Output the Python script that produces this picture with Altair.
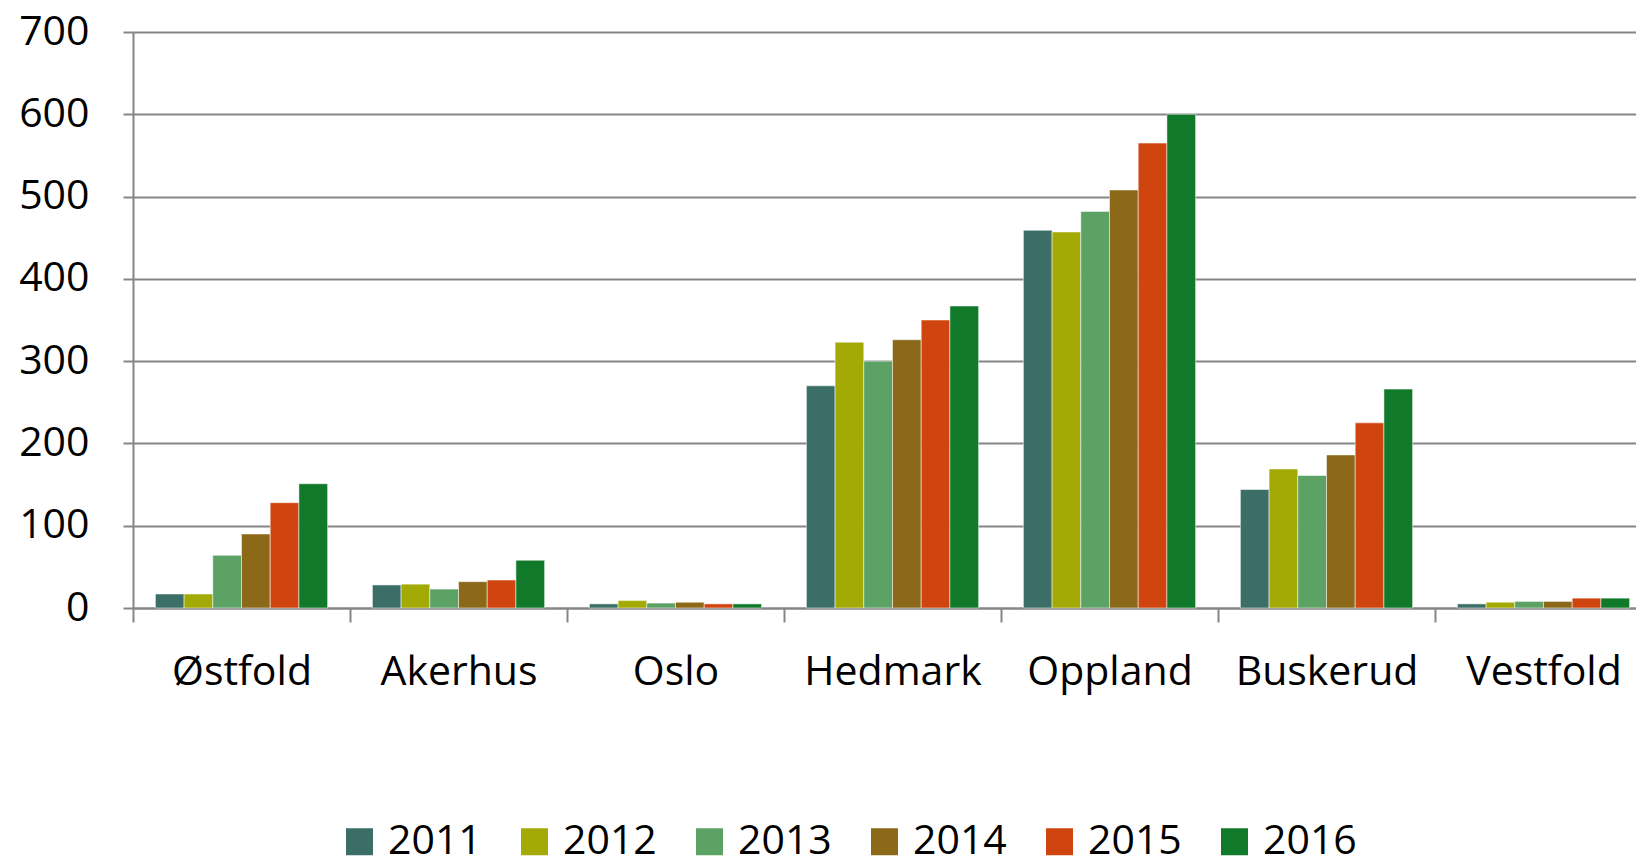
import altair as alt
import pandas as pd

regions = ["Østfold", "Akerhus", "Oslo", "Hedmark", "Oppland", "Buskerud", "Vestfold"]
years = ["2011", "2012", "2013", "2014", "2015", "2016"]
colors = ["#3B6E66", "#A3AA05", "#5CA265", "#8C6919", "#D0450F", "#107A2A"]

v2011 = [17, 28, 5, 270, 459, 144, 5]
v2012 = [17, 29, 9, 323, 457, 169, 7]
v2013 = [64, 23, 6, 300, 482, 161, 8]
v2014 = [90, 32, 7, 326, 508, 186, 8]
v2015 = [128, 34, 5, 350, 565, 225, 12]
v2016 = [151, 58, 5, 367, 600, 266, 12]

series = [v2011, v2012, v2013, v2014, v2015, v2016]
rows = []
for y, vals in zip(years, series):
    for r, v in zip(regions, vals):
        rows.append({"region": r, "year": y, "value": v})
df = pd.DataFrame(rows)

FONT = "Open Sans"
GRID = "#868686"

chart = alt.Chart(df).mark_bar(
    stroke="#ffffff", strokeWidth=1, strokeOpacity=0.5
).encode(
    x=alt.X("region:N", sort=regions, title=None,
            scale=alt.Scale(paddingInner=0, paddingOuter=0),
            axis=alt.Axis(labelAngle=0, tickBand="extent", tickSize=14,
                          labelPadding=30, labelFontSize=41, labelFont=FONT,
                          labelLimit=0,
                          labelColor="#000000", domainColor=GRID, tickColor=GRID,
                          domainWidth=2, tickWidth=2, grid=False)),
    xOffset=alt.XOffset("year:N", sort=years,
                        scale=alt.Scale(paddingInner=0, paddingOuter=0.78)),
    y=alt.Y("value:Q", title=None,
            scale=alt.Scale(domain=[0, 700], nice=False),
            axis=alt.Axis(values=[0, 100, 200, 300, 400, 500, 600, 700],
                          tickSize=10, labelPadding=34, labelFontSize=41,
                          labelFont=FONT, labelColor="#000000",
                          domainColor=GRID, tickColor=GRID, gridColor=GRID,
                          domainWidth=2, tickWidth=2, gridWidth=2,
                          grid=True)),
    color=alt.Color("year:N", sort=years,
                    scale=alt.Scale(domain=years, range=colors),
                    legend=alt.Legend(title=None, orient="none",
                                      direction="horizontal",
                                      legendX=206, legendY=789,
                                      symbolType="square", symbolSize=729,
                                      symbolStrokeWidth=0, symbolOpacity=1,
                                      labelFont=FONT, labelFontSize=41,
                                      labelColor="#000000", labelOffset=8,
                                      columnPadding=32)),
).properties(
    width=1519, height=576,
    autosize=alt.AutoSizeParams(type="none"),
    padding={"left": 125, "top": 24, "right": -16, "bottom": 249},
).configure_view(stroke=None).configure_axis(domainCap="butt")

chart.save("out.html", embed_options={"renderer": "svg", "actions": False})
